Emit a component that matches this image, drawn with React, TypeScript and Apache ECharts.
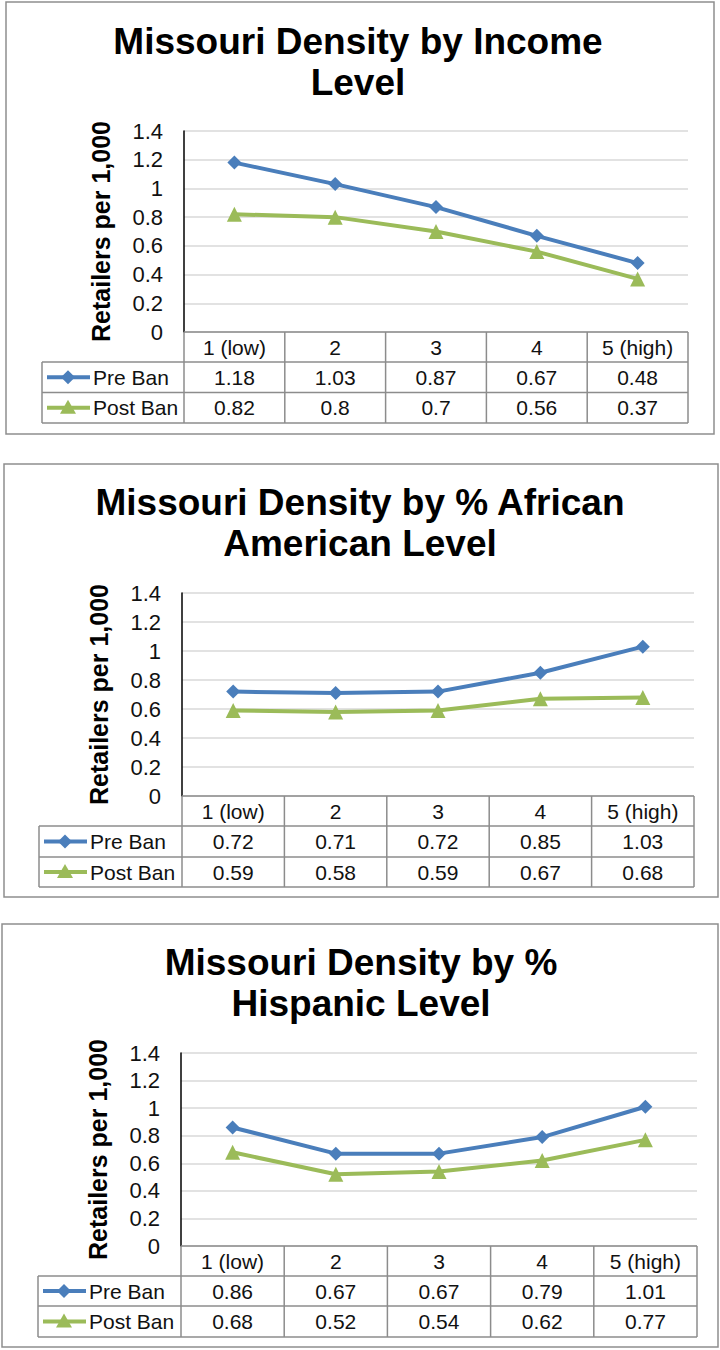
import React, { useEffect, useRef } from 'react';
import * as echarts from 'echarts';

// ---------- data ----------
const categories = ['1 (low)', '2', '3', '4', '5 (high)'];
const seriesNames = ['Pre Ban', 'Post Ban'];
const chartTitles = [
  'Missouri Density by Income\nLevel',
  'Missouri Density by % African\nAmerican Level',
  'Missouri Density by %\nHispanic Level',
];
const yAxisTitle = 'Retailers per 1,000';
const yMin = 0;
const yMax = 1.4;
const yStep = 0.2;

const incomePre = [1.18, 1.03, 0.87, 0.67, 0.48];
const incomePost = [0.82, 0.8, 0.7, 0.56, 0.37];
const africanPre = [0.72, 0.71, 0.72, 0.85, 1.03];
const africanPost = [0.59, 0.58, 0.59, 0.67, 0.68];
const hispanicPre = [0.86, 0.67, 0.67, 0.79, 1.01];
const hispanicPost = [0.68, 0.52, 0.54, 0.62, 0.77];

const chartData = [
  [incomePre, incomePost],
  [africanPre, africanPost],
  [hispanicPre, hispanicPost],
];

// ---------- layout / style ----------
const FONT = '"Liberation Sans", Arial, Helvetica, sans-serif';
const COLORS = ['#4A7EBB', '#9BBB59'];
const SYMBOLS = ['diamond', 'triangle'];
const TABLE_LINE = '#8c8c8c';
const TEXT = '#111';

const layouts = [
  { box: [6, 2, 714, 434], titleX: 358, titleY: 21, left: 184, right: 688, top: 131, bottom: 332, rows: [332, 362, 392.5, 423], legendLeft: 42 },
  { box: [4, 464, 718, 897], titleX: 360, titleY: 482, left: 182, right: 694, top: 593, bottom: 796, rows: [796, 826, 857, 887], legendLeft: 39 },
  { box: [2, 924, 718, 1347], titleX: 361, titleY: 942, left: 181, right: 697, top: 1053, bottom: 1246, rows: [1246, 1276, 1306, 1337], legendLeft: 38 },
];

function buildOption() {
  const graphic: any[] = [];
  const grid: any[] = [];
  const xAxis: any[] = [];
  const yAxis: any[] = [];
  const series: any[] = [];

  const hl = (x0: number, x1: number, y: number) =>
    graphic.push({ type: 'line', silent: true, z: 10, shape: { x1: x0, y1: y, x2: x1, y2: y }, style: { stroke: TABLE_LINE, lineWidth: 1.5 } });
  const vl = (x: number, y0: number, y1: number) =>
    graphic.push({ type: 'line', silent: true, z: 10, shape: { x1: x, y1: y0, x2: x, y2: y1 }, style: { stroke: TABLE_LINE, lineWidth: 1.5 } });

  layouts.forEach((l, i) => {
    const [bx0, by0, bx1, by1] = l.box;
    graphic.push({
      type: 'rect', silent: true, z: 0,
      shape: { x: bx0, y: by0, width: bx1 - bx0, height: by1 - by0 },
      style: { fill: '#fff', stroke: '#8e8e8e', lineWidth: 1.5 },
    });
    graphic.push({
      type: 'text', silent: true, z: 10, x: l.titleX, y: l.titleY,
      style: { text: chartTitles[i], fontSize: 37, fontWeight: 'bold', fontFamily: FONT, fill: '#000', align: 'center', verticalAlign: 'top', lineHeight: 41 },
    });

    grid.push({ left: l.left, top: l.top, width: l.right - l.left, height: l.bottom - l.top, containLabel: false });
    xAxis.push({
      type: 'category', gridIndex: i, data: categories, boundaryGap: true,
      axisLine: { show: false }, axisTick: { show: false },
      axisLabel: { fontSize: 21, color: TEXT, fontFamily: FONT, margin: 15, verticalAlign: 'middle', interval: 0 },
      splitLine: { show: false },
    });
    yAxis.push({
      type: 'value', gridIndex: i, min: yMin, max: yMax, interval: yStep,
      name: yAxisTitle, nameLocation: 'middle', nameRotate: 90, nameGap: 71,
      nameTextStyle: { fontSize: 25, fontWeight: 'bold', color: '#000', fontFamily: FONT },
      axisLine: { show: true, lineStyle: { color: '#000', width: 1.5 } },
      axisTick: { show: false },
      axisLabel: { fontSize: 22, color: TEXT, fontFamily: FONT, margin: 21 },
      splitLine: { show: true, lineStyle: { color: '#d9d9d9', width: 1.5 } },
    });

    chartData[i].forEach((arr, si) => {
      series.push({
        type: 'line', name: seriesNames[si], xAxisIndex: i, yAxisIndex: i, data: arr,
        symbol: SYMBOLS[si], symbolSize: si === 0 ? 14 : 15,
        lineStyle: { color: COLORS[si], width: 4 },
        itemStyle: { color: COLORS[si] },
        z: si === 0 ? 3 : 2,
      });
    });

    // table
    const [r0, r1, r2, r3] = l.rows;
    const colW = (l.right - l.left) / categories.length;
    hl(l.left, l.right, r0);
    hl(l.legendLeft, l.right, r1);
    hl(l.legendLeft, l.right, r2);
    hl(l.legendLeft, l.right, r3);
    vl(l.legendLeft, r1, r3);
    for (let k = 0; k <= categories.length; k++) vl(l.left + k * colW, r0, r3);

    chartData[i].forEach((arr, ri) => {
      const cy = (l.rows[ri + 1] + l.rows[ri + 2]) / 2;
      arr.forEach((v, ci) => {
        graphic.push({
          type: 'text', silent: true, z: 10, x: l.left + (ci + 0.5) * colW, y: cy,
          style: { text: String(v), fontSize: 21, fontFamily: FONT, fill: TEXT, align: 'center', verticalAlign: 'middle' },
        });
      });
      const lx0 = l.legendLeft + 5;
      const lx1 = l.legendLeft + 48;
      const mx = l.legendLeft + 26;
      graphic.push({ type: 'line', silent: true, z: 10, shape: { x1: lx0, y1: cy, x2: lx1, y2: cy }, style: { stroke: COLORS[ri], lineWidth: 4 } });
      const pts = ri === 0
        ? [[mx, cy - 7], [mx + 7, cy], [mx, cy + 7], [mx - 7, cy]]
        : [[mx, cy - 8], [mx + 8, cy + 6], [mx - 8, cy + 6]];
      graphic.push({ type: 'polygon', silent: true, z: 11, shape: { points: pts }, style: { fill: COLORS[ri] } });
      graphic.push({
        type: 'text', silent: true, z: 10, x: l.legendLeft + 51, y: cy,
        style: { text: seriesNames[ri], fontSize: 21, fontFamily: FONT, fill: TEXT, align: 'left', verticalAlign: 'middle' },
      });
    });
  });

  return {
    animation: false,
    backgroundColor: '#fff',
    textStyle: { fontFamily: FONT },
    graphic: { elements: graphic },
    grid, xAxis, yAxis, series,
  };
}

export default function App() {
  const ref = useRef<HTMLDivElement>(null);
  useEffect(() => {
    if (!ref.current) return;
    const chart = echarts.init(ref.current, undefined, { renderer: 'svg' });
    chart.setOption(buildOption() as any);
    return () => chart.dispose();
  }, []);
  return <div ref={ref} style={{ position: 'absolute', left: 0, top: 0, width: 720, height: 1350 }} />;
}
